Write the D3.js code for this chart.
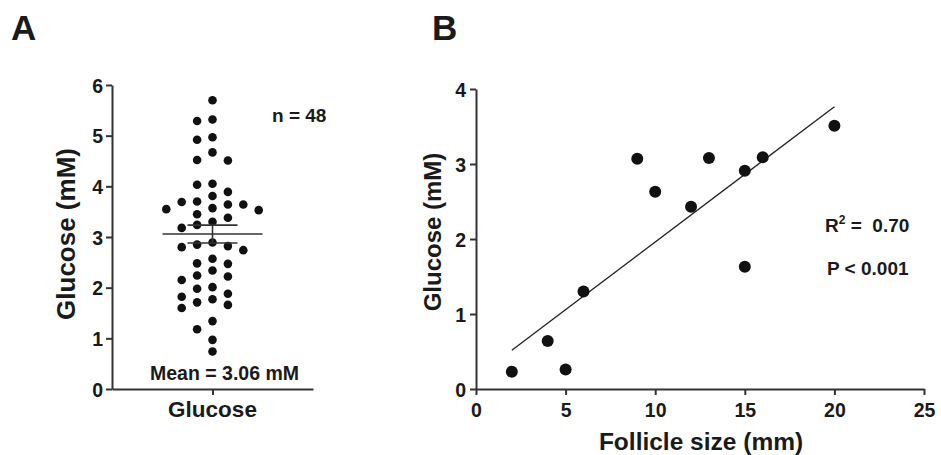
<!DOCTYPE html>
<html>
<head>
<meta charset="utf-8">
<script src="https://cdn.jsdelivr.net/npm/d3@7"></script>
<style>
  body { margin: 0; background: #fff; }
  svg { font-family: "Liberation Sans", Arial, sans-serif; font-weight: bold; }
  .axis path, .axis line { stroke: #333; stroke-width: 2px; }
  .axis text { fill: #1a1a1a; font-size: 19.5px; font-weight: bold; font-family: "Liberation Sans", Arial, sans-serif; }
</style>
</head>
<body>
<svg id="chart"></svg>
<script>
// panel A: glucose values (mM), n = 48
const glucoseA = [5.70, 5.32, 5.29, 4.97, 4.92, 4.67, 4.52, 4.51, 4.05, 4.03, 3.89, 3.81,
    3.70, 3.69, 3.64, 3.64, 3.57, 3.55, 3.53, 3.45, 3.38, 3.30, 3.24, 3.18,
    2.89, 2.85, 2.82, 2.80, 2.74, 2.57, 2.48, 2.47, 2.34, 2.24, 2.22, 2.15,
    2.01, 1.98, 1.88, 1.82, 1.77, 1.71, 1.66, 1.60, 1.34, 1.18, 0.97, 0.74];
const categoryA = ["Glucose"];
const ticksA = [0, 1, 2, 3, 4, 5, 6];

// panel B: follicle size (mm) vs glucose (mM)
const follicleSize = [2, 4, 5, 6, 9, 10, 12, 13, 15, 15, 16, 20];
const glucoseB = [0.23, 0.64, 0.26, 1.30, 3.07, 2.63, 2.43, 3.08, 2.91, 1.63, 3.09, 3.51];
const ticksBx = [0, 5, 10, 15, 20, 25];
const ticksBy = [0, 1, 2, 3, 4];

function init() {
    const width = 941, height = 455;
    const svg = d3.select("#chart").attr("width", width).attr("height", height);
    const ink = "#1a1a1a";
    const fmt = d3.format("d");

    // panel letters
    svg.append("text").attr("x", 11).attr("y", 40).text("A")
        .attr("font-size", 35).attr("fill", ink);
    svg.append("text").attr("x", 432).attr("y", 40).text("B")
        .attr("font-size", 35).attr("fill", ink);

    //---------- panel A ----------
    const xA = d3.scalePoint().domain(categoryA).range([112, 313]).padding(0.5);
    const yA = d3.scaleLinear().domain([0, 6]).range([389, 85]);

    svg.append("g").attr("class", "axis")
        .attr("transform", "translate(112,0)")
        .call(d3.axisLeft(yA).tickValues(ticksA).tickFormat(fmt).tickSize(6).tickPadding(3).tickSizeOuter(0))
        .call(g => g.selectAll("text").attr("dy", "0.36em"));
    svg.append("g").attr("class", "axis")
        .attr("transform", "translate(0,389)")
        .call(d3.axisBottom(xA).tickSize(6).tickSizeOuter(0).tickFormat(""));

    svg.append("text").attr("x", xA("Glucose")).attr("y", 417).attr("text-anchor", "middle")
        .attr("font-size", 22.5).attr("fill", ink).text("Glucose");
    svg.append("text").attr("transform", "translate(75,234) rotate(-90)").attr("text-anchor", "middle")
        .attr("font-size", 26).attr("fill", ink).text("Glucose (mM)");

    // simple swarm: columns of fixed step, greedy from the top down
    const step = 15.4, minGap = 10.5;
    const order = [0, -1, 1, -2, 2, -3, 3, -4, 4];
    const placed = [];
    glucoseA.slice().sort((a, b) => b - a).forEach(v => {
        const py = yA(v);
        for (const k of order) {
            const clash = placed.some(p => p.k === k && Math.abs(p.y - py) < minGap);
            if (!clash) { placed.push({k: k, y: py, v: v}); break; }
        }
    });
    svg.append("g").selectAll("circle").data(placed).enter()
        .append("circle")
        .attr("cx", d => xA("Glucose") + d.k * step)
        .attr("cy", d => d.y)
        .attr("r", 4.3)
        .attr("fill", "#111");

    // mean +- SEM
    const mean = d3.mean(glucoseA);
    const sem = d3.deviation(glucoseA) / Math.sqrt(glucoseA.length);
    const cx = xA("Glucose");
    const err = svg.append("g").attr("stroke", "#333").attr("stroke-width", 1.6);
    err.append("line").attr("x1", cx - 50).attr("x2", cx + 50).attr("y1", yA(mean)).attr("y2", yA(mean));
    err.append("line").attr("x1", cx - 25).attr("x2", cx + 25).attr("y1", yA(mean + sem)).attr("y2", yA(mean + sem));
    err.append("line").attr("x1", cx - 25).attr("x2", cx + 25).attr("y1", yA(mean - sem)).attr("y2", yA(mean - sem));
    err.append("line").attr("x1", cx).attr("x2", cx).attr("y1", yA(mean + sem)).attr("y2", yA(mean - sem));

    svg.append("text").attr("x", 272).attr("y", 121.5).attr("font-size", 19).attr("fill", ink)
        .text("n = " + glucoseA.length);
    svg.append("text").attr("x", 150).attr("y", 380).attr("font-size", 19.5).attr("fill", ink)
        .text("Mean = " + mean.toFixed(2) + " mM");

    //---------- panel B ----------
    const xB = d3.scaleLinear().domain([0, 25]).range([476, 924]);
    const yB = d3.scaleLinear().domain([0, 4]).range([389, 89]);

    svg.append("g").attr("class", "axis")
        .attr("transform", "translate(476,0)")
        .call(d3.axisLeft(yB).tickValues(ticksBy).tickFormat(fmt).tickSize(6).tickPadding(4).tickSizeOuter(0))
        .call(g => g.selectAll("text").attr("dy", "0.36em"));
    svg.append("g").attr("class", "axis")
        .attr("transform", "translate(0,389)")
        .call(d3.axisBottom(xB).tickValues(ticksBx).tickFormat(fmt).tickSize(6).tickPadding(8).tickSizeOuter(0));

    svg.append("text").attr("x", 701).attr("y", 450).attr("text-anchor", "middle")
        .attr("font-size", 24.5).attr("fill", ink).text("Follicle size (mm)");
    svg.append("text").attr("transform", "translate(441,232) rotate(-90)").attr("text-anchor", "middle")
        .attr("font-size", 24).attr("fill", ink).text("Glucose (mM)");

    // least squares fit over the data range
    const pts = follicleSize.map((x, i) => ({x: x, y: glucoseB[i]}));
    const mx = d3.mean(follicleSize), my = d3.mean(glucoseB);
    const slope = d3.sum(pts, p => (p.x - mx) * (p.y - my)) / d3.sum(pts, p => (p.x - mx) ** 2);
    const icpt = my - slope * mx;
    const [x0, x1] = d3.extent(follicleSize);
    svg.append("line")
        .attr("x1", xB(x0)).attr("y1", yB(icpt + slope * x0))
        .attr("x2", xB(x1)).attr("y2", yB(icpt + slope * x1))
        .attr("stroke", "#222").attr("stroke-width", 1.3);

    svg.append("g").selectAll("circle").data(pts).enter()
        .append("circle")
        .attr("cx", d => xB(d.x))
        .attr("cy", d => yB(d.y))
        .attr("r", 6)
        .attr("fill", "#111");

    const r2 = svg.append("text").attr("x", 825).attr("y", 232).attr("font-size", 19)
        .attr("fill", ink).style("white-space", "pre");
    r2.append("tspan").text("R");
    r2.append("tspan").attr("dy", -8).attr("font-size", 12).text("2");
    r2.append("tspan").attr("dy", 8).text(" =  0.70");
    svg.append("text").attr("x", 827).attr("y", 275).attr("font-size", 19).attr("fill", ink)
        .text("P < 0.001");
}

window.onload = init;
</script>
</body>
</html>
